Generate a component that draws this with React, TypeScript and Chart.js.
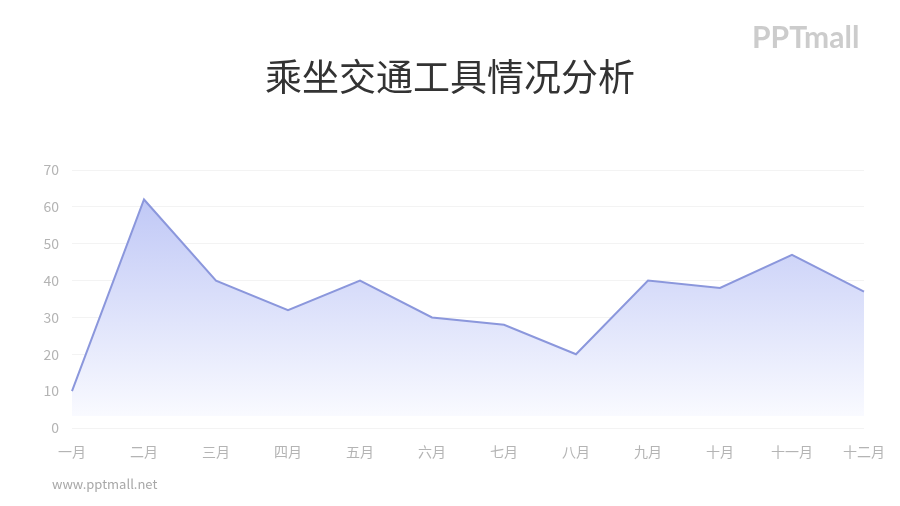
import { useEffect, useRef } from "react"
import { Chart, registerables } from "chart.js"

Chart.register(...registerables)

const months = ["一月", "二月", "三月", "四月", "五月", "六月", "七月", "八月", "九月", "十月", "十一月", "十二月"]
const riders = [10, 62, 40, 32, 40, 30, 28, 20, 40, 38, 47, 37]
const yTicks = [0, 10, 20, 30, 40, 50, 60, 70]

const FONT = "'Noto Sans CJK SC', 'Noto Sans', sans-serif"

export default function App() {
  const chartRef = useRef<HTMLCanvasElement>(null)
  const chartInstance = useRef<Chart | null>(null)

  useEffect(() => {
    document.body.style.margin = "0"
    if (!chartRef.current) return
    if (chartInstance.current) chartInstance.current.destroy()
    const ctx = chartRef.current.getContext("2d")
    if (!ctx) return

    chartInstance.current = new Chart(ctx, {
      type: "line",
      data: {
        labels: months,
        datasets: [
          {
            label: "乘坐交通工具",
            data: riders,
            borderColor: "#8b97dc",
            borderWidth: 2,
            pointRadius: 0,
            tension: 0,
            fill: "origin",
            backgroundColor: (c: any) => {
              const chart = c.chart
              const area = chart.chartArea
              if (!area) return "rgba(200,208,246,0.6)"
              const y = chart.scales.y
              const top = y.getPixelForValue(62)
              const end = y.getPixelForValue(3.3)
              const bottom = y.getPixelForValue(0)
              const g = chart.ctx.createLinearGradient(0, top, 0, bottom)
              const f = (end - top) / (bottom - top)
              g.addColorStop(0, "rgba(192,200,246,1)")
              g.addColorStop(f, "rgba(249,250,255,1)")
              g.addColorStop(Math.min(1, f + 0.001), "rgba(255,255,255,0)")
              g.addColorStop(1, "rgba(255,255,255,0)")
              return g
            },
          },
        ],
      },
      options: {
        responsive: false,
        animation: false,
        layout: { padding: { top: 170, right: 36, bottom: 28, left: 0 } },
        plugins: {
          legend: { display: false },
          tooltip: { enabled: false },
        },
        scales: {
          x: {
            offset: false,
            grid: { display: false, drawTicks: false },
            border: { display: false },
            ticks: {
              color: "#b4b4b4",
              font: { family: FONT, size: 14 },
              padding: 15,
              maxRotation: 0,
              autoSkip: false,
            },
            afterFit: (s: any) => {
              s.height = 50
            },
          },
          y: {
            min: 0,
            max: 70,
            afterBuildTicks: (s: any) => {
              s.ticks = yTicks.map((v) => ({ value: v }))
            },
            grid: { color: "#f3f3f3", drawTicks: false, lineWidth: 1 },
            border: { display: false },
            ticks: {
              color: "#b4b4b4",
              font: { family: FONT, size: 14 },
              padding: 13,
            },
            afterFit: (s: any) => {
              s.width = 72
            },
          },
        },
      },
    })

    return () => {
      if (chartInstance.current) {
        chartInstance.current.destroy()
        chartInstance.current = null
      }
    }
  }, [])

  return (
    <div style={{ position: "relative", width: 900, height: 506, background: "#fff", fontFamily: FONT }}>
      <canvas ref={chartRef} width={900} height={506} style={{ position: "absolute", left: 0, top: 0 }} />
      <div
        style={{
          position: "absolute",
          left: 0,
          width: 900,
          top: 50,
          textAlign: "center",
          fontSize: 37,
          color: "#333333",
          lineHeight: "50px",
        }}
      >
        乘坐交通工具情况分析
      </div>
      <div
        style={{
          position: "absolute",
          left: 752,
          top: 18,
          fontFamily: "'Lato', sans-serif",
          fontWeight: 700,
          fontSize: 30,
          letterSpacing: 0,
          color: "#cccccc",
          lineHeight: "36px",
        }}
      >
        PPTmall
      </div>
      <div
        style={{
          position: "absolute",
          left: 52,
          top: 475,
          fontSize: 13,
          color: "#a8a8a8",
          lineHeight: "18px",
        }}
      >
        www.pptmall.net
      </div>
    </div>
  )
}
